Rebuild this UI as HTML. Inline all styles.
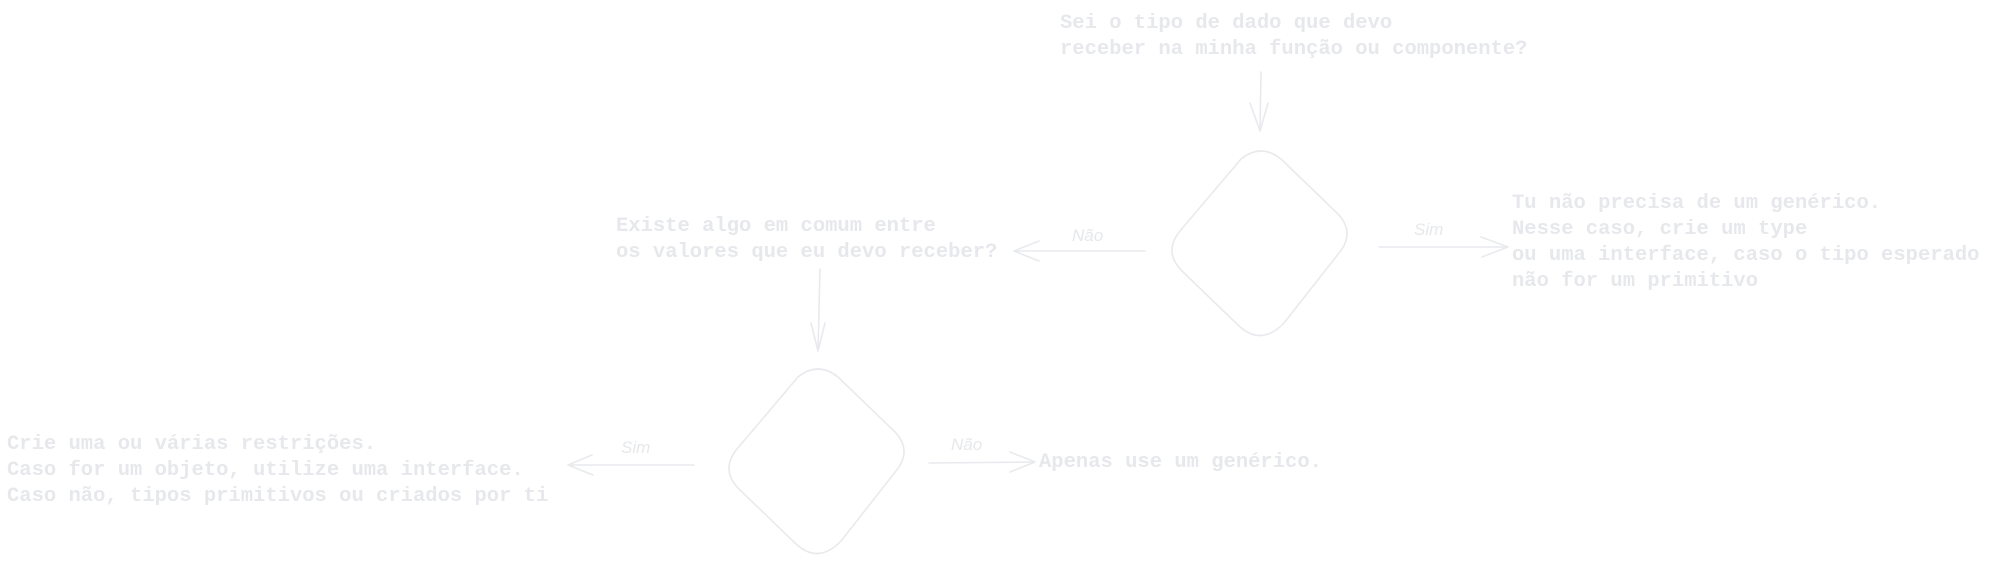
<!DOCTYPE html>
<html><head><meta charset="utf-8"><style>
html,body{margin:0;padding:0;background:#fff;width:2000px;height:577px;overflow:hidden}
svg{display:block}
text{font-family:"Liberation Mono",monospace;font-size:20.5px;fill:#e6e8eb;font-weight:bold}
.l{font-family:"Liberation Sans",sans-serif;font-style:italic;font-size:17px;font-weight:normal}
</style></head><body>
<svg width="2000" height="577" viewBox="0 0 2000 577" xmlns="http://www.w3.org/2000/svg">
<g stroke="#e8eaed" stroke-width="1.6" fill="none" stroke-linecap="round" stroke-linejoin="round">
<path d="M1261 72 L1260 131 M1250 103 L1260 131 L1268 103"/>
<path d="M1241 159 Q1261 143 1281 159 L1337 213 Q1356 232 1339 253 L1284 323 Q1261 347 1238 325 L1182 271 Q1163 252 1180 231 Z"/>
<path d="M1379 247 L1508 247 M1481 237 L1508 247 L1482 257"/>
<path d="M1145 251 L1014 251 M1039 241 L1014 251 L1039 261"/>
<path d="M820 269 L818 351 M811 323 L818 351 L825 323"/>
<path d="M798 377 Q818 361 838 377 L894 431 Q913 450 896 471 L841 541 Q818 565 795 543 L739 489 Q720 470 737 449 Z"/>
<path d="M694 465 L568 465 M592 455 L568 465 L593 475"/>
<path d="M929 463 L1035 462 M1010 452 L1035 462 L1010 472"/>
</g>
<text x="1060" y="28">Sei o tipo de dado que devo</text>
<text x="1060" y="54">receber na minha função ou componente?</text>
<text x="1512" y="208">Tu não precisa de um genérico.</text>
<text x="1512" y="234">Nesse caso, crie um type</text>
<text x="1512" y="260">ou uma interface, caso o tipo esperado</text>
<text x="1512" y="286">não for um primitivo</text>
<text x="616" y="231">Existe algo em comum entre</text>
<text x="616" y="257">os valores que eu devo receber?</text>
<text x="7" y="449">Crie uma ou várias restrições.</text>
<text x="7" y="475">Caso for um objeto, utilize uma interface.</text>
<text x="7" y="501">Caso não, tipos primitivos ou criados por ti</text>
<text x="1039" y="467">Apenas use um genérico.</text>
<text class="l" x="1414" y="235">Sim</text>
<text class="l" x="1072" y="241">Não</text>
<text class="l" x="621" y="453">Sim</text>
<text class="l" x="951" y="450">Não</text>
</svg>
</body></html>
